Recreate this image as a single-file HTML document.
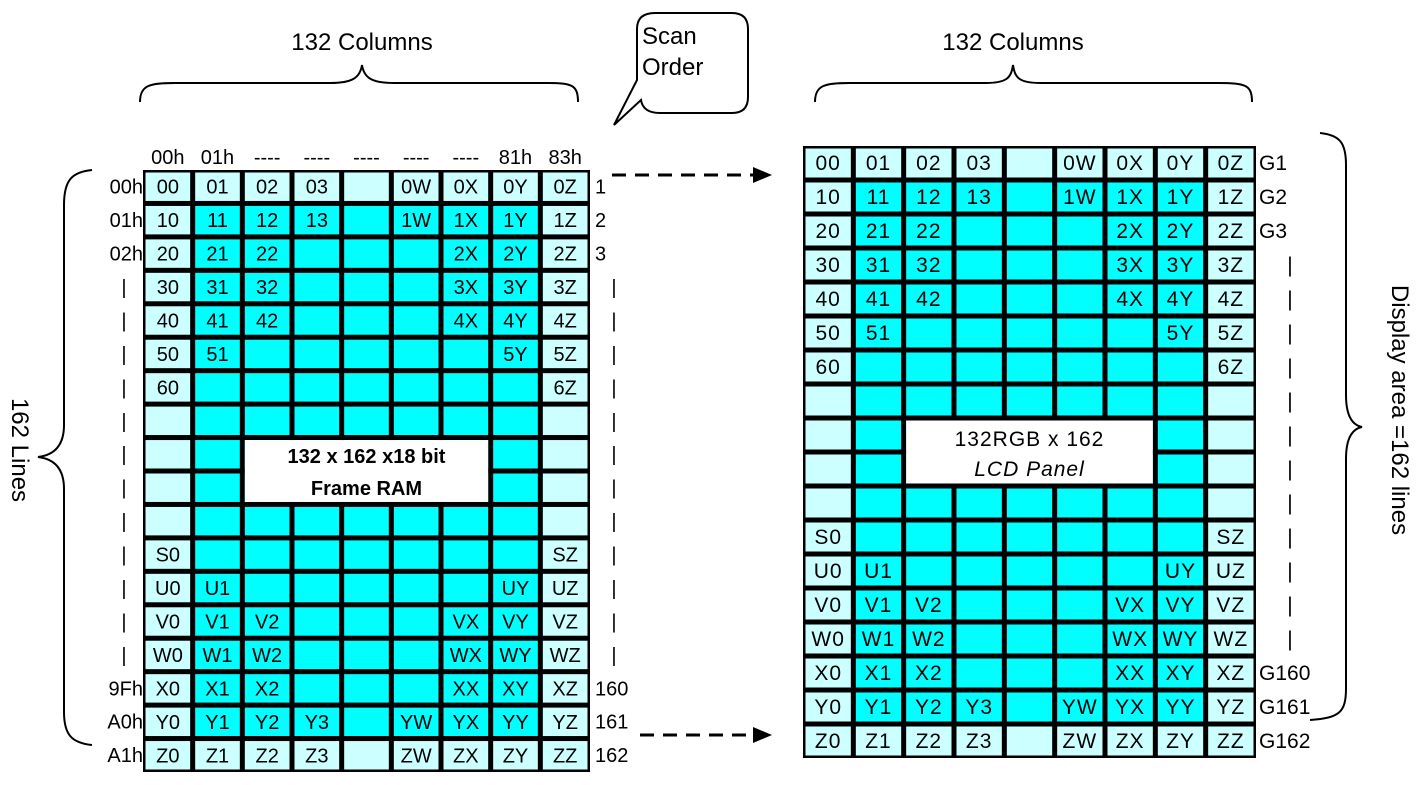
<!DOCTYPE html>
<html><head><meta charset="utf-8">
<style>
html,body{margin:0;padding:0;background:#fff;width:1426px;height:785px;overflow:hidden}
svg{display:block}
text{font-family:"Liberation Sans",Arial,sans-serif;fill:#000}
</style></head>
<body>
<svg id="s" width="1426" height="785" viewBox="0 0 1426 785" xmlns="http://www.w3.org/2000/svg">
<path d="M140,102 C140,85 150,83 175,83 L330,83 C352,83 360,78 362,65 C364,78 372,83 394,83 L548,83 C572,83 578,85 578,102" fill="none" stroke="#000" stroke-width="2"/>
<text x="362" y="50" font-size="24" text-anchor="middle">132 Columns</text>
<path d="M815,102 C815,85 825,83 850,83 L985,83 C1007,83 1011,78 1013,65 C1015,78 1019,83 1041,83 L1218,83 C1246,83 1252,85 1252,102" fill="none" stroke="#000" stroke-width="2"/>
<text x="1013" y="50" font-size="24" text-anchor="middle">132 Columns</text>
<path d="M92,170 C72,172 64,180 64,205 L64,425 C64,445 55,455 38,457 C55,459 64,469 64,489 L64,712 C64,735 72,743 92,745" fill="none" stroke="#000" stroke-width="2"/>
<text transform="translate(12,450) rotate(90)" font-size="24" text-anchor="middle">162 Lines</text>
<path d="M1320,133 C1340,135 1346,143 1346,165 L1346,395 C1346,415 1352,425 1362,427 C1352,429 1346,439 1346,459 L1346,688 C1346,712 1340,718 1310,720" fill="none" stroke="#000" stroke-width="2"/>
<text transform="translate(1392,410) rotate(90)" font-size="24" text-anchor="middle">Display area =162 lines</text>
<path d="M655,13 L732,13 Q748,13 748,29 L748,97 Q748,113 732,113 L660,113 Q643,113 641,100 L614,125 L637,80 L637,29 Q637,13 655,13 Z" fill="#fff" stroke="#000" stroke-width="2"/>
<text x="642" y="44" font-size="24">Scan</text>
<text x="642" y="75" font-size="24">Order</text>
<line x1="612" y1="175" x2="755" y2="175" stroke="#000" stroke-width="3" stroke-dasharray="14,9"/>
<polygon points="753,167 772,175 753,183" fill="#000"/>
<line x1="640" y1="735" x2="755" y2="735" stroke="#000" stroke-width="3" stroke-dasharray="14,9"/>
<polygon points="753,727 772,735 753,743" fill="#000"/>
<g id="g"></g>
</svg>
<script>
var NS="http://www.w3.org/2000/svg",g=document.getElementById("g");
function el(t,a,txt){var e=document.createElementNS(NS,t);for(var k in a)e.setAttribute(k,a[k]);if(txt!=null)e.textContent=txt;g.appendChild(e);return e;}
var L=[
["00","01","02","03","","0W","0X","0Y","0Z"],
["10","11","12","13","","1W","1X","1Y","1Z"],
["20","21","22","","","","2X","2Y","2Z"],
["30","31","32","","","","3X","3Y","3Z"],
["40","41","42","","","","4X","4Y","4Z"],
["50","51","","","","","","5Y","5Z"],
["60","","","","","","","","6Z"],
["","","","","","","","",""],
["","","","","","","","",""],
["","","","","","","","",""],
["","","","","","","","",""],
["S0","","","","","","","","SZ"],
["U0","U1","","","","","","UY","UZ"],
["V0","V1","V2","","","","VX","VY","VZ"],
["W0","W1","W2","","","","WX","WY","WZ"],
["X0","X1","X2","","","","XX","XY","XZ"],
["Y0","Y1","Y2","Y3","","YW","YX","YY","YZ"],
["Z0","Z1","Z2","Z3","","ZW","ZX","ZY","ZZ"]];
function grid(x0,y0,w,h,fs,ls,boxT){
  var cw=w/9,rh=h/18;
  el("rect",{x:x0,y:y0,width:w,height:h,fill:"#000"});
  for(var r=0;r<18;r++)for(var c=0;c<9;c++){
    var light=(r==0||r==17||c==0||c==8);
    el("rect",{x:x0+c*cw+2.5,y:y0+r*rh+2.5,width:cw-5,height:rh-5,fill:light?"#ccffff":"#00ffff"});
    if(L[r][c])el("text",{x:x0+c*cw+cw/2,y:y0+r*rh+rh/2+7,"font-size":fs,"text-anchor":"middle","letter-spacing":ls},L[r][c]);
  }
  el("rect",{x:x0+2*cw+2.5,y:y0+8*rh+2.5,width:5*cw-5,height:2*rh-5,fill:"#fff"});
  boxT(x0+4.5*cw,y0+9*rh);
}
grid(143,170,447,602,20,0,function(cx,cy){
  el("text",{x:cx,y:cy-8,"font-size":20,"font-weight":"bold","text-anchor":"middle"},"132 x 162 x18 bit");
  el("text",{x:cx,y:cy+24,"font-size":20,"font-weight":"bold","text-anchor":"middle"},"Frame RAM");
});
grid(803,146,453,612,21,1,function(cx,cy){
  el("text",{x:cx,y:cy-6,"font-size":21,"text-anchor":"middle","letter-spacing":1},"132RGB x 162");
  el("text",{x:cx,y:cy+24,"font-size":21,"font-style":"italic","text-anchor":"middle","letter-spacing":1},"LCD Panel");
});
var hd=["00h","01h","----","----","----","----","----","81h","83h"];
for(var c=0;c<9;c++)el("text",{x:143+c*49.67+24.8,y:164,"font-size":20,"text-anchor":"middle"},hd[c]);
var rl=["00h","01h","02h"],rr=["1","2","3"],gr=["G1","G2","G3"];
for(var r=0;r<18;r++){
  var yl=170+r*33.44+16.7+7, yr=146+r*34+17+7;
  var lt,rt,gt;
  if(r<3){lt=rl[r];rt=rr[r];gt=gr[r];}
  else if(r<15){lt="|";rt="|";gt="|";}
  else{lt=["9Fh","A0h","A1h"][r-15];rt=["160","161","162"][r-15];gt=["G160","G161","G162"][r-15];}
  el("text",{x:lt=="|"?124:143,y:yl,"font-size":20,"text-anchor":lt=="|"?"middle":"end"},lt);
  el("text",{x:rt=="|"?614:595,y:yl,"font-size":20,"text-anchor":rt=="|"?"middle":"start"},rt);
  el("text",{x:gt=="|"?1290:1259,y:yr,"font-size":21,"text-anchor":gt=="|"?"middle":"start"},gt);
}
</script>
</body></html>
